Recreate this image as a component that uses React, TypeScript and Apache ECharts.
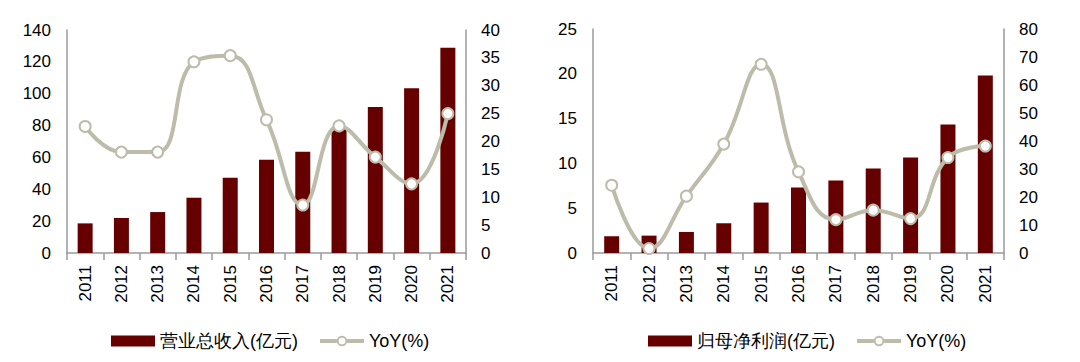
import React, { useEffect, useRef } from "react";
import * as echarts from "echarts";

const years = ["2011", "2012", "2013", "2014", "2015", "2016", "2017", "2018", "2019", "2020", "2021"];
const revenue = [18.6, 22.0, 25.7, 34.7, 47.3, 58.6, 63.6, 78.7, 91.7, 103.4, 128.9];
const revenueYoY = [22.7, 18.1, 18.1, 34.3, 35.4, 23.9, 8.6, 22.8, 17.2, 12.4, 25.0];
const profit = [1.87, 1.94, 2.35, 3.32, 5.63, 7.3, 8.1, 9.43, 10.66, 14.35, 19.8];
const profitYoY = [24.2, 1.6, 20.3, 38.9, 67.4, 29.0, 11.9, 15.3, 12.3, 34.1, 38.2];

const revName = "营业总收入(亿元)";
const profName = "归母净利润(亿元)";
const yoyName = "YoY(%)";

const BAR = "#660000";
const LINE = "#BDBCAA";
const AXIS = "#9a9a9a";
const FONT = "Liberation Sans, Arial, sans-serif";

const lineIcon =
  "path://M0,3.5L17.6,3.5L17.6,7.5L0,7.5Z" +
  "M28.4,3.5L46,3.5L46,7.5L28.4,7.5Z" +
  "M17.5,5.5A5.5,5.5 0 1,1 28.5,5.5A5.5,5.5 0 1,1 17.5,5.5Z" +
  "M19.5,5.5A3.5,3.5 0 1,0 26.5,5.5A3.5,3.5 0 1,0 19.5,5.5Z";

export default function App() {
  const ref = useRef<HTMLDivElement>(null);
  useEffect(() => {
    if (!ref.current) return;
    const chart = echarts.init(ref.current, null, { renderer: "svg" });
    const xAxisBase = (gridIndex: number) => ({
      type: "category",
      gridIndex,
      data: years,
      boundaryGap: true,
      axisLine: { show: true, lineStyle: { color: AXIS, width: 1.5 } },
      axisTick: { show: true, alignWithLabel: false, length: 7, lineStyle: { color: AXIS, width: 1.5 } },
      axisLabel: { rotate: 90, color: "#000", fontSize: 17, fontFamily: FONT, margin: 12 },
    });
    const yAxisBase = (gridIndex: number, max: number, interval: number, position: string) => ({
      type: "value",
      gridIndex,
      position,
      min: 0,
      max,
      interval,
      axisLine: { show: true, lineStyle: { color: AXIS, width: 1.5 } },
      axisTick: { show: false },
      splitLine: { show: false },
      axisLabel: { color: "#000", fontSize: 17, fontFamily: FONT, margin: position === "left" ? 16 : 15 },
    });
    const lineSeries = (data: number[], xAxisIndex: number, yAxisIndex: number) => ({
      name: yoyName,
      type: "line",
      xAxisIndex,
      yAxisIndex,
      data,
      smooth: 0.45,
      symbol: "circle",
      symbolSize: 11,
      lineStyle: { color: LINE, width: 4 },
      itemStyle: { color: "#fff", borderColor: LINE, borderWidth: 2 },
      z: 3,
    });
    const legendText = { fontSize: 18, color: "#000", fontFamily: FONT };
    const yoyLegend = {
      name: yoyName,
      icon: lineIcon,
      itemStyle: { color: LINE, borderWidth: 0 },
    };
    chart.setOption({
      animation: false,
      textStyle: { fontFamily: FONT },
      grid: [
        { left: 67, right: 614, top: 30, bottom: 109 },
        { left: 593, right: 76, top: 29, bottom: 109 },
      ],
      legend: [
        {
          left: 106,
          top: 327,
          itemWidth: 44,
          itemHeight: 11,
          itemGap: 22,
          textStyle: legendText,
          data: [{ name: revName, icon: "rect" }, yoyLegend],
        },
        {
          left: 643,
          top: 327,
          itemWidth: 44,
          itemHeight: 11,
          textStyle: legendText,
          data: [{ name: profName, icon: "rect" }],
        },
        {
          left: 852,
          top: 327,
          itemWidth: 44,
          itemHeight: 11,
          textStyle: legendText,
          data: [yoyLegend],
        },
      ],
      xAxis: [xAxisBase(0), xAxisBase(1)],
      yAxis: [
        yAxisBase(0, 140, 20, "left"),
        yAxisBase(0, 40, 5, "right"),
        yAxisBase(1, 25, 5, "left"),
        yAxisBase(1, 80, 10, "right"),
      ],
      series: [
        {
          name: revName,
          type: "bar",
          xAxisIndex: 0,
          yAxisIndex: 0,
          data: revenue,
          barWidth: 15,
          itemStyle: { color: BAR },
        },
        lineSeries(revenueYoY, 0, 1),
        {
          name: profName,
          type: "bar",
          xAxisIndex: 1,
          yAxisIndex: 2,
          data: profit,
          barWidth: 15,
          itemStyle: { color: BAR },
        },
        lineSeries(profitYoY, 1, 3),
      ],
    });
    return () => chart.dispose();
  }, []);
  return (
    <div
      ref={ref}
      style={{ position: "fixed", left: 0, top: 0, width: 1080, height: 362, background: "#fff" }}
    />
  );
}
